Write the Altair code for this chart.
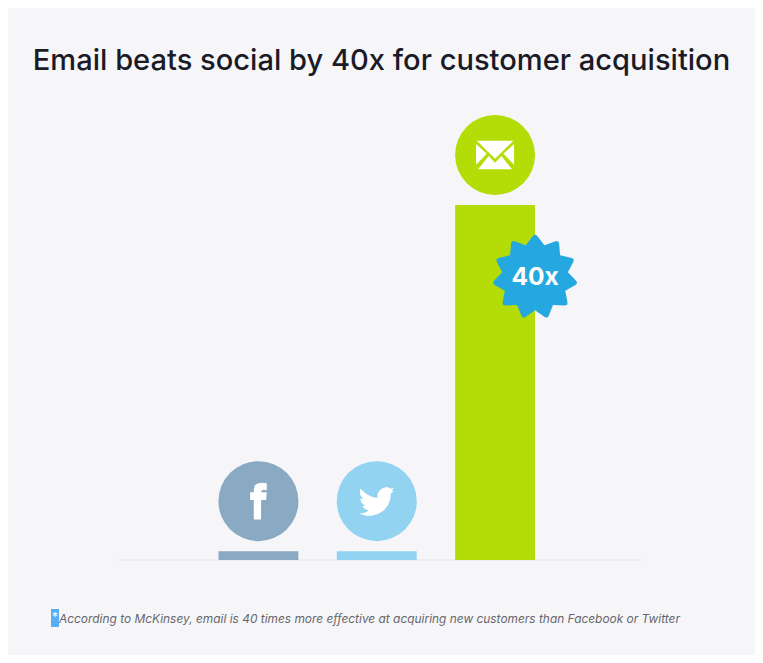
import math
import altair as alt
import pandas as pd

categories = ["Facebook", "Twitter", "Email"]
values = [1, 1, 40]
bar_colors = ["#8aa9c2", "#92d3f2", "#b4dc06"]

TITLE = "Email beats social by 40x for customer acquisition"
NOTE = "According to McKinsey, email is 40 times more effective at acquiring new customers than Facebook or Twitter"
BG = "#f6f6f9"


def norm(points, cx, cy, half):
    return "M" + "L".join(f"{(x-cx)/half:.3f},{(y-cy)/half:.3f}" for x, y in points) + "Z"


# Icon outlines (unit-square symbol paths)
envelope = " ".join([
    norm([(110, 62), (220, 62), (165, 116)], 165, 105, 57),
    norm([(108, 72), (108, 134), (140, 101)], 165, 105, 57),
    norm([(222, 72), (222, 134), (190, 101)], 165, 105, 57),
    norm([(114, 148), (146, 108), (165, 128), (184, 108), (216, 148)], 165, 105, 57),
])
f_letter = norm([
    (161, 210), (161, 152), (150, 152), (150, 128), (161, 128), (161, 120), (164, 108), (172, 102),
    (184, 100), (200, 101), (200, 122), (190, 121), (184, 124), (183, 128), (200, 128), (198, 152),
    (183, 152), (183, 210),
], 175, 155, 55)
bird = norm([
    (480, 122), (498, 138), (515, 147), (532, 151), (532, 140), (538, 128), (550, 120), (562, 118),
    (572, 123), (582, 120), (575, 129), (582, 129), (572, 138), (571, 152), (565, 170), (552, 187),
    (535, 198), (515, 204), (497, 204), (479, 197), (494, 195), (506, 188), (494, 184), (486, 174),
    (495, 174), (484, 164), (480, 152), (489, 154), (480, 140),
], 530, 160, 55)

# Badge outline
tips = 11
badge_pts = []
for i in range(tips):
    a = 2 * math.pi * i / tips
    for da, r in [(-0.05, 0.97), (0, 1.0), (0.05, 0.97), (math.pi / tips, 0.78)]:
        badge_pts.append((r * math.sin(a + da), -r * math.cos(a + da)))
badge = norm(badge_pts, 0, 0, 1)

df = pd.DataFrame({"name": categories, "value": values, "color": bar_colors})
icons = pd.DataFrame({"name": categories, "value": values,
                      "path": [f_letter, bird, envelope], "size": [1344, 1344, 1444]})
email_df = df[df.name == "Email"]

x = alt.X("name:N", sort=categories, axis=None,
          scale=alt.Scale(domain=categories, range=[210.5, 527], paddingInner=0.325, paddingOuter=0))
y = alt.Y("value:Q", axis=None, scale=alt.Scale(domain=[0, 40], range=[470, 115]))
color = alt.Color("color:N", scale=None, legend=None)

baseline = alt.Chart(pd.DataFrame({"v": [0]})).mark_rule(color="#ebebef", strokeWidth=1.5).encode(
    y=alt.Y("v:Q", axis=None, scale=alt.Scale(domain=[0, 40], range=[470, 115])),
    x=alt.value(109), x2=alt.value(635))

bars = alt.Chart(df).mark_bar().encode(x=x, y=y, color=color)

discs = alt.Chart(df).mark_point(filled=True, opacity=1, shape="circle", size=6400, yOffset=-50).encode(
    x=x, y=y, color=color)

glyphs = [
    alt.Chart(icons[icons.name == n]).mark_point(
        filled=True, opacity=1, color="white", shape=p, size=s, yOffset=-50).encode(x=x, y=y)
    for n, p, s in zip(icons.name, icons.path, icons["size"])
]

star = alt.Chart(email_df).mark_point(
    filled=True, opacity=1, color="#25a7e0", shape=badge, size=7225, xOffset=40, yOffset=72
).encode(x=x, y=y)
star_text = alt.Chart(email_df).mark_text(
    text="40x", color="white", fontSize=24.5, fontWeight=700, font="Inter", xOffset=40, yOffset=73,
    align="center", baseline="middle"
).encode(x=x, y=y)

note_box = alt.Chart(pd.DataFrame({"v": [0]})).mark_rect(color="#58aef5").encode(
    x=alt.value(43), x2=alt.value(51), y=alt.value(519), y2=alt.value(537))
note_star = alt.Chart(pd.DataFrame({"v": [0]})).mark_text(
    text="*", color="white", fontSize=12, font="Inter", align="center", baseline="middle"
).encode(x=alt.value(47), y=alt.value(527))
note = alt.Chart(pd.DataFrame({"v": [0]})).mark_text(
    text=NOTE, color="#66666c", fontSize=11.92, fontStyle="italic", font="Inter", align="left", baseline="middle"
).encode(x=alt.value(51), y=alt.value(529))

chart = alt.layer(baseline, bars, discs, *glyphs, star, star_text, note_box, note_star, note).properties(
    width=747,
    height=565,
    background=BG,
    padding={"top": 82, "left": 0, "right": 0, "bottom": 0},
    autosize=alt.AutoSizeParams(type="none"),
    title=alt.TitleParams(TITLE, anchor="middle", fontSize=29.1, fontWeight=500, font="Inter",
                          color="#1b1b28", offset=14),
).configure_view(stroke=None)

chart.save("out.html", embed_options={"renderer": "svg", "actions": False})
